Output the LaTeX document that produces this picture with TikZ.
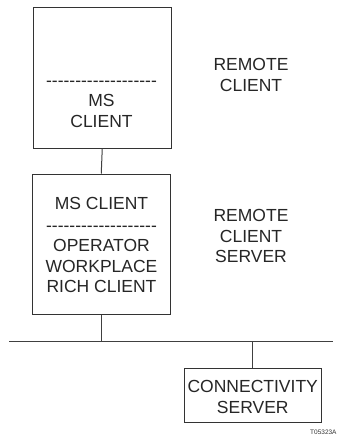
\documentclass[tikz,border=0pt]{standalone}
\usepackage{fontspec}
\setmainfont{Liberation Sans}
\newcommand\hyrow{\foreach \i in {1,...,19}{-\kern0pt}}
\begin{document}
\begin{tikzpicture}[x=1pt,y=-1pt,
  box/.style={draw=black!80,line width=1pt,inner sep=0pt},
  lbl/.style={font=\fontsize{17.5}{20.6}\selectfont,text=black!85,align=center,inner sep=0pt},
  wire/.style={draw=black!75,line width=1pt}]
\useasboundingbox (0,0) rectangle (342,437);
\fill[white] (0,0) rectangle (342,437);
% box 1
\node[box,minimum width=137.5pt,minimum height=140.5pt] (rc) at (102.25,77.75) {};
\node[lbl] (rcd) at (101.5,83.5) {\hyrow};
\node[lbl,anchor=north] (rct) at (101.5,94) {MS\\CLIENT};
% box 2
\node[box,minimum width=137.5pt,minimum height=140pt] (rs) at (101.25,244) {};
\node[lbl] (rst) at (101.5,203.5) {MS CLIENT};
\node[lbl] (rsd) at (101.5,228.5) {\hyrow};
\node[lbl,anchor=north] (rsb) at (101.5,239) {OPERATOR\\WORKPLACE\\RICH CLIENT};
% box 3
\node[box,minimum width=137.5pt,minimum height=54pt] (cs) at (252.75,395) {};
\node[lbl,anchor=north] (cst) at (252.75,380) {CONNECTIVITY\\SERVER};
% side labels
\node[lbl,anchor=north] (l1) at (251,58) {REMOTE\\CLIENT};
\node[lbl,anchor=north] (l2) at (251,209) {REMOTE\\CLIENT\\SERVER};
% bus
\coordinate (busL) at (9,341);
\coordinate (busR) at (333,341);
\draw[wire] (busL) -- (busR);
\draw[wire] (rc.south) -- (rs.north);
\draw[wire] (rs.south) -- (rs.south |- busL);
\draw[wire] (cs.north |- busL) -- (cs.north);
\node[font=\fontsize{6.5}{7}\selectfont,text=black!80,anchor=west,inner sep=0pt] (tag) at (310,432) {T05323A};
\end{tikzpicture}
\end{document}
